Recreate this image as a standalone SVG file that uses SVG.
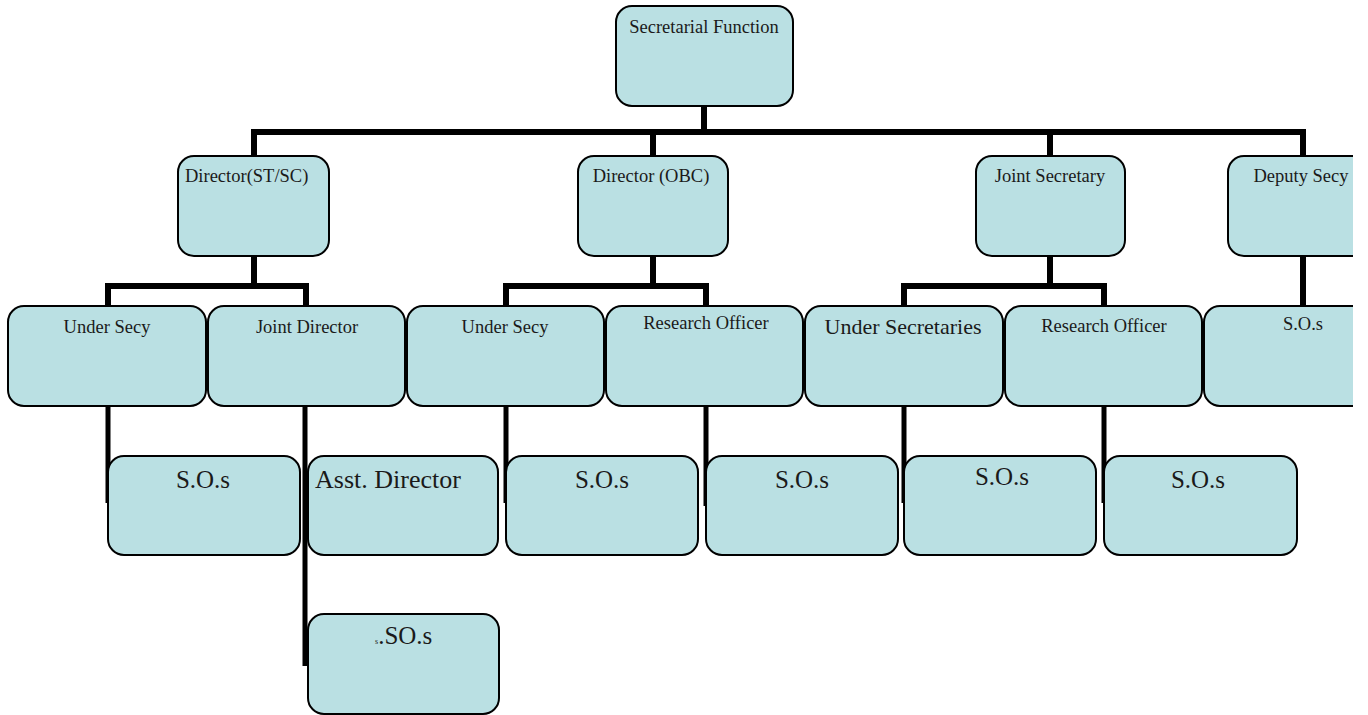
<svg xmlns="http://www.w3.org/2000/svg" width="1368" height="715" viewBox="0 0 1368 715">
<defs>
<clipPath id="page"><rect x="0" y="0" width="1353" height="715"/></clipPath>
</defs>
<style>
.box{fill:#BAE0E3;stroke:#000;stroke-width:2}
.ln{fill:none;stroke:#000;stroke-width:6}
.ln2{fill:none;stroke:#000;stroke-width:5}
text{font-family:"Liberation Serif","Times New Roman",serif;fill:#1a1a1a;text-anchor:middle}
.t18{font-size:18.5px}
.t22{font-size:22px}
.t25{font-size:25px}
</style>
<rect width="1368" height="715" fill="#fff"/>
<g clip-path="url(#page)">
<g id="connectors">
<path class="ln" d="M704,106 V132 M252,132 H1306 M254,129 V156 M653,129 V156 M1050,129 V156 M1303,129 V156"/>
<path class="ln" d="M254,256 V286 M105,286 H309 M108,283 V306 M306,283 V306"/>
<path class="ln" d="M653,256 V286 M503,286 H709 M506,283 V306 M706,283 V306"/>
<path class="ln" d="M1050,256 V286 M901,286 H1107 M904,283 V306 M1104,283 V306"/>
<path class="ln" d="M1303,256 V306"/>
<path class="ln2" d="M108,406 V503 M305,406 V666 M506,406 V503 M706,406 V506 M904,406 V503 M1104,406 V503"/>
</g>
<g id="n-secretarial"><rect class="box" x="616" y="6" width="177" height="100" rx="16"/><text class="t18" x="704" y="33">Secretarial Function</text></g>
<g id="n-dir-stsc"><rect class="box" x="178" y="156" width="151" height="100" rx="16"/><text class="t18" x="185" y="182" style="text-anchor:start">Director(ST/SC)</text></g>
<g id="n-dir-obc"><rect class="box" x="578" y="156" width="150" height="100" rx="16"/><text class="t18" x="651" y="182">Director (OBC)</text></g>
<g id="n-joint-secy"><rect class="box" x="976" y="156" width="149" height="100" rx="16"/><text class="t18" x="1050" y="182">Joint Secretary</text></g>
<g id="n-deputy-secy"><rect class="box" x="1228" y="156" width="150" height="100" rx="16"/><text class="t18" x="1301" y="182">Deputy Secy</text></g>
<g id="n-under-secy-1"><rect class="box" x="8" y="306" width="198" height="100" rx="16"/><text class="t18" x="107" y="333">Under Secy</text></g>
<g id="n-joint-director"><rect class="box" x="208" y="306" width="197" height="100" rx="16"/><text class="t18" x="307" y="333">Joint Director</text></g>
<g id="n-under-secy-2"><rect class="box" x="407" y="306" width="197" height="100" rx="16"/><text class="t18" x="505" y="333">Under Secy</text></g>
<g id="n-research-1"><rect class="box" x="606" y="306" width="197" height="100" rx="16"/><text class="t18" x="706" y="329">Research Officer</text></g>
<g id="n-under-secretaries"><rect class="box" x="805" y="306" width="198" height="100" rx="16"/><text class="t22" x="903" y="334">Under Secretaries</text></g>
<g id="n-research-2"><rect class="box" x="1005" y="306" width="197" height="100" rx="16"/><text class="t18" x="1104" y="332">Research Officer</text></g>
<g id="n-sos-right"><rect class="box" x="1204" y="306" width="198" height="100" rx="16"/><text class="t18" x="1303" y="330">S.O.s</text></g>
<g id="n-sos-1"><rect class="box" x="108" y="456" width="192" height="99" rx="16"/><text class="t25" x="203" y="488">S.O.s</text></g>
<g id="n-asst-director"><rect class="box" x="308" y="456" width="190" height="99" rx="16"/><text class="t25" x="315" y="488" style="text-anchor:start;font-size:26px">Asst. Director</text></g>
<g id="n-sos-2"><rect class="box" x="506" y="456" width="192" height="99" rx="16"/><text class="t25" x="602" y="488">S.O.s</text></g>
<g id="n-sos-3"><rect class="box" x="706" y="456" width="192" height="99" rx="16"/><text class="t25" x="802" y="488">S.O.s</text></g>
<g id="n-sos-4"><rect class="box" x="904" y="456" width="192" height="99" rx="16"/><text class="t25" x="1002" y="485">S.O.s</text></g>
<g id="n-sos-5"><rect class="box" x="1104" y="456" width="193" height="99" rx="16"/><text class="t25" x="1198" y="488">S.O.s</text></g>
<g id="n-sos-6"><rect class="box" x="308" y="614" width="191" height="100" rx="16"/><text x="375" y="644" style="text-anchor:start"><tspan style="font-size:8px">s</tspan><tspan style="font-size:25px">.SO.s</tspan></text></g>
</g>
</svg>
